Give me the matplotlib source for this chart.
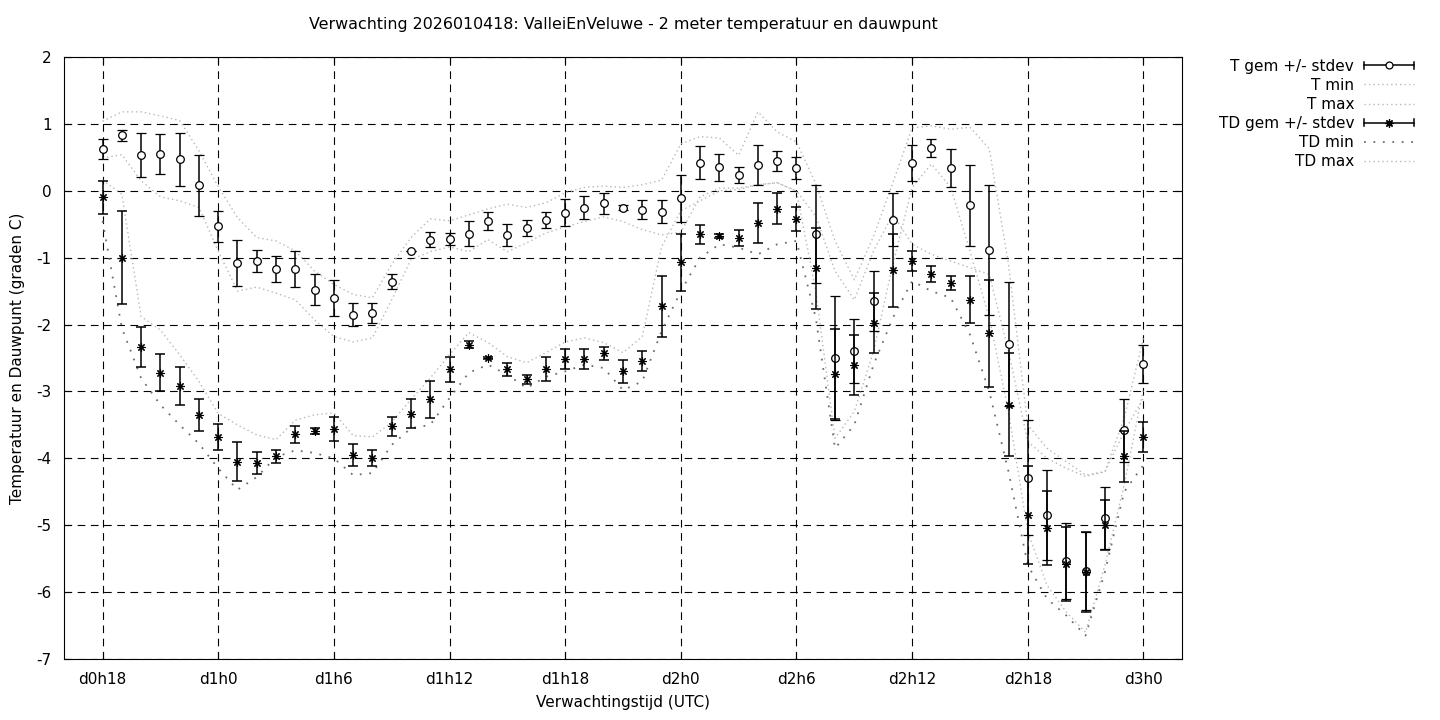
import matplotlib
matplotlib.use("Agg")
import matplotlib.pyplot as plt
from matplotlib.lines import Line2D
from matplotlib.legend_handler import HandlerBase

plt.rcParams['font.family'] = ['DejaVu Sans']
plt.rcParams['axes.unicode_minus'] = False
plt.rcParams['lines.scale_dashes'] = False

# forecast hours since d0h0
hours = list(range(18, 73))

t_mean = [0.63, 0.83, 0.53, 0.55, 0.47, 0.08, -0.53, -1.08, -1.05, -1.17,
          -1.17, -1.48, -1.60, -1.85, -1.83, -1.36, -0.90, -0.73, -0.72, -0.64,
          -0.45, -0.66, -0.56, -0.43, -0.33, -0.25, -0.19, -0.25, -0.28, -0.31,
          -0.11, 0.42, 0.35, 0.24, 0.38, 0.45, 0.34, -0.65, -2.50, -2.40,
          -1.65, -0.43, 0.41, 0.64, 0.34, -0.22, -0.89, -2.29, -4.29, -4.85,
          -5.53, -5.68, -4.89, -3.58, -2.59]
t_std = [0.15, 0.08, 0.33, 0.30, 0.40, 0.45, 0.23, 0.35, 0.17, 0.20,
         0.27, 0.23, 0.27, 0.17, 0.15, 0.11, 0.00, 0.11, 0.09, 0.19,
         0.14, 0.17, 0.12, 0.12, 0.20, 0.17, 0.15, 0.03, 0.14, 0.17,
         0.35, 0.25, 0.20, 0.12, 0.30, 0.15, 0.17, 0.73, 0.93, 0.48,
         0.45, 0.40, 0.27, 0.13, 0.28, 0.60, 0.97, 0.93, 0.86, 0.67,
         0.57, 0.58, 0.46, 0.47, 0.28]
t_min = [0.49, 0.54, 0.15, -0.09, -0.15, -0.25, -0.90, -1.50, -1.44, -1.53,
         -1.63, -1.93, -2.18, -2.26, -2.20, -1.63, -1.03, -0.91, -0.84, -0.91,
         -0.73, -0.91, -0.78, -0.63, -0.54, -0.46, -0.39, -0.46, -0.58, -0.66,
         -0.62, -0.09, 0.04, 0.04, 0.09, 0.12, -0.01, -1.50, -3.70, -3.30,
         -2.40, -1.10, 0.05, 0.40, 0.05, -0.90, -1.90, -3.30, -5.10, -5.90,
         -6.30, -6.60, -5.60, -4.40, -2.95]
t_max = [1.04, 1.18, 1.18, 1.12, 1.05, 0.60, 0.06, -0.40, -0.70, -0.75,
         -0.90, -1.20, -1.40, -1.55, -1.60, -1.10, -0.70, -0.42, -0.45, -0.36,
         -0.27, -0.20, -0.25, -0.18, -0.03, 0.05, 0.07, 0.05, 0.09, 0.16,
         0.70, 0.81, 0.79, 0.53, 1.18, 0.88, 0.73, 0.11, -0.75, -1.33,
         -0.68, 0.12, 0.94, 0.97, 0.92, 0.95, 0.63, -1.10, -3.50, -3.85,
         -4.05, -4.25, -4.20, -3.40, -2.20]

td_mean = [-0.10, -1.00, -2.33, -2.72, -2.92, -3.35, -3.68, -4.05, -4.07, -3.97,
           -3.64, -3.59, -3.56, -3.95, -4.00, -3.52, -3.33, -3.12, -2.67, -2.30,
           -2.50, -2.67, -2.82, -2.67, -2.51, -2.52, -2.43, -2.70, -2.55, -1.73,
           -1.07, -0.65, -0.67, -0.70, -0.48, -0.27, -0.42, -1.16, -2.74, -2.61,
           -1.98, -1.19, -1.05, -1.25, -1.38, -1.63, -2.13, -3.20, -4.85, -5.04,
           -5.58, -5.70, -5.00, -3.97, -3.68]
td_std = [0.25, 0.70, 0.30, 0.28, 0.28, 0.24, 0.19, 0.29, 0.16, 0.10,
          0.13, 0.05, 0.18, 0.16, 0.12, 0.14, 0.22, 0.28, 0.19, 0.05,
          0.02, 0.10, 0.07, 0.18, 0.15, 0.15, 0.10, 0.17, 0.15, 0.45,
          0.43, 0.14, 0.03, 0.12, 0.30, 0.23, 0.18, 0.60, 0.67, 0.45,
          0.45, 0.55, 0.15, 0.12, 0.10, 0.35, 0.80, 0.77, 0.73, 0.55,
          0.55, 0.60, 0.37, 0.38, 0.22]
td_min = [-0.45, -2.05, -2.80, -3.20, -3.50, -3.78, -4.15, -4.47, -4.28, -3.98,
          -3.88, -3.92, -4.00, -4.25, -4.22, -3.80, -3.55, -3.50, -3.10, -2.72,
          -2.60, -2.75, -2.95, -2.78, -2.70, -2.60, -2.65, -2.98, -2.85, -2.10,
          -1.50, -1.00, -0.80, -0.85, -0.95, -0.80, -0.75, -1.90, -3.85, -3.50,
          -2.60, -1.90, -1.35, -1.50, -1.60, -2.15, -3.00, -4.20, -5.60, -6.10,
          -6.35, -6.65, -5.70, -4.50, -4.10]
td_max = [0.16, -0.05, -1.88, -2.08, -2.45, -2.85, -3.33, -3.50, -3.65, -3.72,
          -3.43, -3.35, -3.32, -3.66, -3.68, -3.46, -3.12, -2.80, -2.45, -2.12,
          -2.27, -2.48, -2.57, -2.42, -2.26, -2.20, -2.27, -2.42, -2.18, -0.84,
          -0.30, -0.15, 0.00, 0.02, 0.09, 0.12, 0.00, -0.38, -1.20, -1.63,
          -0.90, -0.35, -0.80, -0.95, -1.05, -1.15, -1.25, -2.40, -3.75, -4.00,
          -4.15, -4.27, -4.20, -3.60, -3.10]

tick_hours = [18, 24, 30, 36, 42, 48, 54, 60, 66, 72]
tick_labels = ['d0h18', 'd1h0', 'd1h6', 'd1h12', 'd1h18',
               'd2h0', 'd2h6', 'd2h12', 'd2h18', 'd3h0']

fig = plt.figure(figsize=(14.4, 7.2), dpi=100)
ax = fig.add_axes([64/1440, 1 - 659/720, (1182 - 64)/1440, (659 - 57)/720])

light = '#b8b8b8'
dark = '#6e6e6e'
fine_dots = (0, (1.0, 2.2))
wide_dots = (0, (1.3, 5.5))
star = (8, 2, 0)

ax.errorbar(hours, t_mean, yerr=t_std, fmt='o', color='black', mfc='white',
            mec='black', ms=5.5, mew=0.9, elinewidth=1.1, capsize=3.5,
            capthick=1.1, zorder=4)
ax.plot(hours, t_min, color=light, lw=1.0, ls=fine_dots, zorder=2)
ax.plot(hours, t_max, color=light, lw=1.0, ls=fine_dots, zorder=2)
ax.errorbar(hours, td_mean, yerr=td_std, fmt='none', ecolor='black',
            elinewidth=1.1, capsize=3.5, capthick=1.1, zorder=5)
ax.plot(hours, td_mean, ls='none', marker=star, color='black', ms=6.0,
        mew=0.8, zorder=6)
ax.plot(hours, td_min, color=dark, lw=1.3, ls=wide_dots, zorder=2)
ax.plot(hours, td_max, color=light, lw=1.0, ls=fine_dots, zorder=2)

ax.set_xlim(16, 74)
ax.set_ylim(-7, 2)
ax.set_xticks(tick_hours)
ax.set_xticklabels(tick_labels)
ax.set_yticks(range(-7, 3))
ax.grid(True, color='black', lw=0.8, ls=(0, (5.5, 4.0)))
ax.tick_params(direction='in', length=5, width=0.8, labelsize=11,
               top=True, right=True, pad=9)
for s in ax.spines.values():
    s.set_linewidth(0.8)

ax.set_title('Verwachting 2026010418: ValleiEnVeluwe - 2 meter temperatuur en dauwpunt',
             fontsize=11.4, pad=20)
ax.set_xlabel('Verwachtingstijd (UTC)', fontsize=11, labelpad=6)
ax.set_ylabel('Temperatuur en Dauwpunt (graden C)', fontsize=11, labelpad=8)


class ErrHandler(HandlerBase):
    def __init__(self, marker, ms, mfc):
        super().__init__()
        self.marker = marker
        self.ms = ms
        self.mfc = mfc

    def create_artists(self, legend, orig_handle, xdescent, ydescent,
                       width, height, fontsize, trans):
        x0 = -xdescent
        x1 = x0 + width
        y = height / 2 - ydescent
        h = height * 0.35
        arts = [Line2D([x0, x1], [y, y], color='black', lw=1.1),
                Line2D([x0, x0], [y - h, y + h], color='black', lw=1.1),
                Line2D([x1, x1], [y - h, y + h], color='black', lw=1.1),
                Line2D([(x0 + x1) / 2], [y], marker=self.marker, ms=self.ms,
                       mfc=self.mfc, mec='black', color='black', mew=0.9,
                       ls='none')]
        for a in arts:
            a.set_transform(trans)
        return arts


h_t = Line2D([], [], color='black')
h_td = Line2D([], [], color='black')
handles = [h_t,
           Line2D([], [], color=light, lw=1.0, ls=fine_dots),
           Line2D([], [], color=light, lw=1.0, ls=fine_dots),
           h_td,
           Line2D([], [], color=dark, lw=1.3, ls=wide_dots),
           Line2D([], [], color=light, lw=1.0, ls=fine_dots)]
labels = ['T gem +/- stdev', 'T min', 'T max',
          'TD gem +/- stdev', 'TD min', 'TD max']
fig.legend(handles, labels, loc='upper right',
           bbox_to_anchor=(1422/1440, 1 - 51/720), frameon=False,
           markerfirst=False, fontsize=11, handlelength=3.3,
           handletextpad=0.65, labelspacing=0.27, borderpad=0,
           handler_map={h_t: ErrHandler('o', 5.0, 'white'),
                        h_td: ErrHandler(star, 6.0, 'black')})

fig.savefig('out.png', dpi=100)
